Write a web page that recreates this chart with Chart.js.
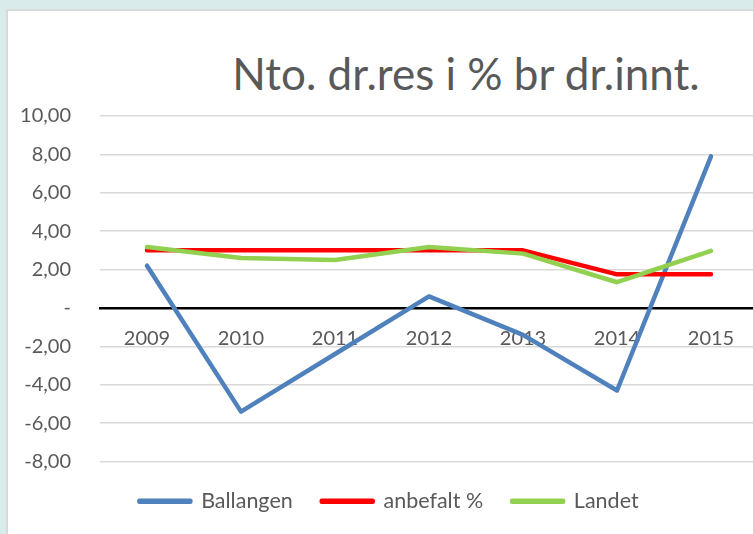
<!DOCTYPE html>
<html>
<head>
<meta charset="utf-8">
<script src="https://cdn.jsdelivr.net/npm/chart.js@4.4.1/dist/chart.umd.min.js"></script>
<style>
  html, body { margin: 0; padding: 0; }
  body { width: 753px; height: 534px; overflow: hidden; background: #daebeb; position: relative; font-family: Lato, sans-serif; }
  #panel { position: absolute; left: 6px; top: 9px; width: 800px; height: 600px; background: #fff; border-left: 2px solid #d9d9d9; border-top: 2px solid #d9d9d9; }
  #title { position: absolute; left: 0; top: 47px; width: 932px; text-align: center; font-family: Lato, sans-serif; font-size: 44px; color: #595959; white-space: nowrap; }
  #wrap { position: absolute; left: 0; top: 0; width: 758px; height: 534px; }
</style>
</head>
<body>
<div id="panel"></div>
<div id="title">Nto. dr.res i % br dr.innt.</div>
<div id="wrap"><canvas id="chart"></canvas></div>
<script>
// data
const years = ['2009', '2010', '2011', '2012', '2013', '2014', '2015'];
const ballangen = [2.2, -5.4, -2.4, 0.6, -1.4, -4.3, 7.9];
const anbefalt = [3.0, 3.0, 3.0, 3.0, 3.0, 1.75, 1.75];
const landet = [3.18, 2.6, 2.5, 3.18, 2.83, 1.34, 2.97];

const grey = '#595959';

function serie(label, data, color, order) {
    return {
        label: label,
        data: data,
        borderColor: color,
        backgroundColor: color,
        borderWidth: 4.5,
        pointRadius: 0,
        borderCapStyle: 'round',
        borderJoinStyle: 'round',
        tension: 0,
        order: order
    };
}

const ctx = document.getElementById('chart').getContext('2d');
new Chart(ctx, {
    type: 'line',
    data: {
        labels: years,
        datasets: [
            serie('Ballangen', ballangen, '#4f81bd', 2),
            serie('anbefalt %', anbefalt, '#ff0000', 1),
            serie('Landet', landet, '#92d050', 0)
        ]
    },
    options: {
        responsive: true,
        maintainAspectRatio: false,
        animation: false,
        layout: { padding: { top: 116, left: 20, right: 0, bottom: 12 } },
        plugins: {
            title: { display: false },
            tooltip: { enabled: false },
            legend: {
                position: 'bottom',
                labels: {
                    font: { family: 'Lato', size: 21.5 },
                    color: grey,
                    boxWidth: 51,
                    boxHeight: 1,
                    padding: 29,
                    sort: (a, b) => a.datasetIndex - b.datasetIndex
                }
            }
        },
        scales: {
            x: {
                offset: true,
                position: { y: 0 },
                grid: { display: false, drawTicks: false },
                border: { display: true, color: '#000', width: 2.5 },
                ticks: { font: { family: 'Lato', size: 20 }, color: grey, padding: 19 }
            },
            y: {
                min: -8,
                max: 10,
                ticks: {
                    stepSize: 2,
                    font: { family: 'Lato', size: 20 },
                    color: grey,
                    padding: 29,
                    callback: v => v === 0 ? '-' : v.toFixed(2).replace('.', ',')
                },
                grid: {
                    drawTicks: false,
                    lineWidth: 1.5,
                    color: c => c.tick && c.tick.value === 0 ? 'rgba(0,0,0,0)' : '#d9d9d9'
                },
                border: { display: false },
                afterFit: s => { s.width = 80; }
            }
        }
    }
});
</script>
</body>
</html>
